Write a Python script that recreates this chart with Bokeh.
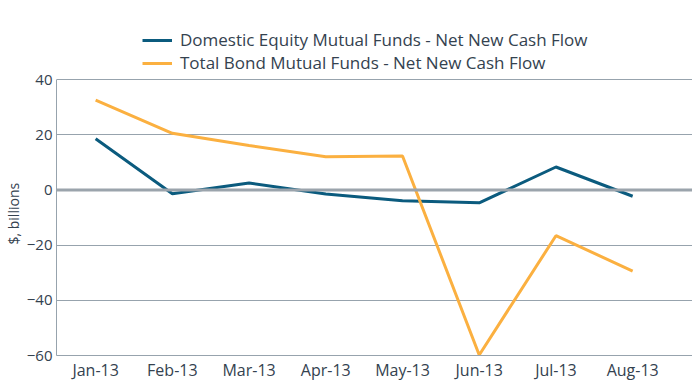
from bokeh.plotting import figure
from bokeh.models import Legend, LegendItem, Span, FixedTicker, ColumnDataSource, Title
from bokeh.embed import file_html
from bokeh.resources import INLINE

months = ["Jan-13", "Feb-13", "Mar-13", "Apr-13", "May-13", "Jun-13", "Jul-13", "Aug-13"]
equity = [18.5, -1.4, 2.5, -1.5, -3.9, -4.7, 8.3, -2.3]
bond = [32.5, 20.5, 16.1, 12.0, 12.3, -59.8, -16.6, -29.4]
y_ticks = [-60, -40, -20, 0, 20, 40]

BLUE = "#0b5b7e"
ORANGE = "#fbb040"
GRID = "#97a3ad"
TEXT = "#34424f"
FONT = "Open Sans"

idx = list(range(len(months)))
src = ColumnDataSource(dict(x=idx, eq=equity, bd=bond))

p = figure(width=692, height=383, x_range=(-0.51, 7.78), y_range=(-60, 65.0),
           output_backend="svg", toolbar_location=None,
           min_border_left=0, min_border_right=0, min_border_top=10, min_border_bottom=0)
p.outline_line_color = None

r1 = p.line("x", "eq", source=src, line_color=BLUE, line_width=3)
r2 = p.line("x", "bd", source=src, line_color=ORANGE, line_width=3)

p.add_layout(Span(location=0, dimension="width", line_color="#9ba4ac", line_width=3))

p.xaxis.ticker = FixedTicker(ticks=idx)
p.xaxis.major_label_overrides = {i: m for i, m in enumerate(months)}
p.yaxis.ticker = FixedTicker(ticks=y_ticks)
p.yaxis.bounds = (-60, 40)
p.xgrid.visible = False
p.ygrid.grid_line_color = GRID
p.ygrid.grid_line_width = 1

for ax in (p.xaxis, p.yaxis):
    ax.axis_line_color = GRID
    ax.axis_line_width = 1
    ax.major_tick_line_color = None
    ax.minor_tick_line_color = None
    ax.major_tick_out = 0
    ax.major_tick_in = 0
    ax.minor_tick_out = 0
    ax.minor_tick_in = 0
    ax.major_label_text_font = FONT
    ax.major_label_text_color = TEXT
    ax.major_label_standoff = 5
p.xaxis.major_label_text_font_size = "16px"
p.xaxis.major_label_text_line_height = 1.0
p.xaxis.major_label_standoff = 3
p.yaxis.major_label_text_font_size = "15px"
p.yaxis.major_label_standoff = 4

ylab = Title(text="$, billions", align="left", offset=111, standoff=2,
             text_font=FONT, text_font_size="14px", text_font_style="normal",
             text_color=TEXT)
p.add_layout(ylab, "left")

legend = Legend(items=[
    LegendItem(label="Domestic Equity Mutual Funds - Net New Cash Flow", renderers=[r1]),
    LegendItem(label="Total Bond Mutual Funds - Net New Cash Flow", renderers=[r2]),
], orientation="vertical")
legend.label_text_font = FONT
legend.label_text_font_size = "17px"
legend.label_text_line_height = 1.0
legend.label_text_color = TEXT
legend.glyph_width = 30
legend.glyph_height = 20
legend.label_height = 20
legend.label_standoff = 8
legend.spacing = 0
legend.padding = 0
legend.margin = 0
legend.border_line_color = None
legend.background_fill_alpha = 0
legend.location = (86, 281)
p.add_layout(legend)

open("out.html", "w").write(file_html(p, INLINE))
